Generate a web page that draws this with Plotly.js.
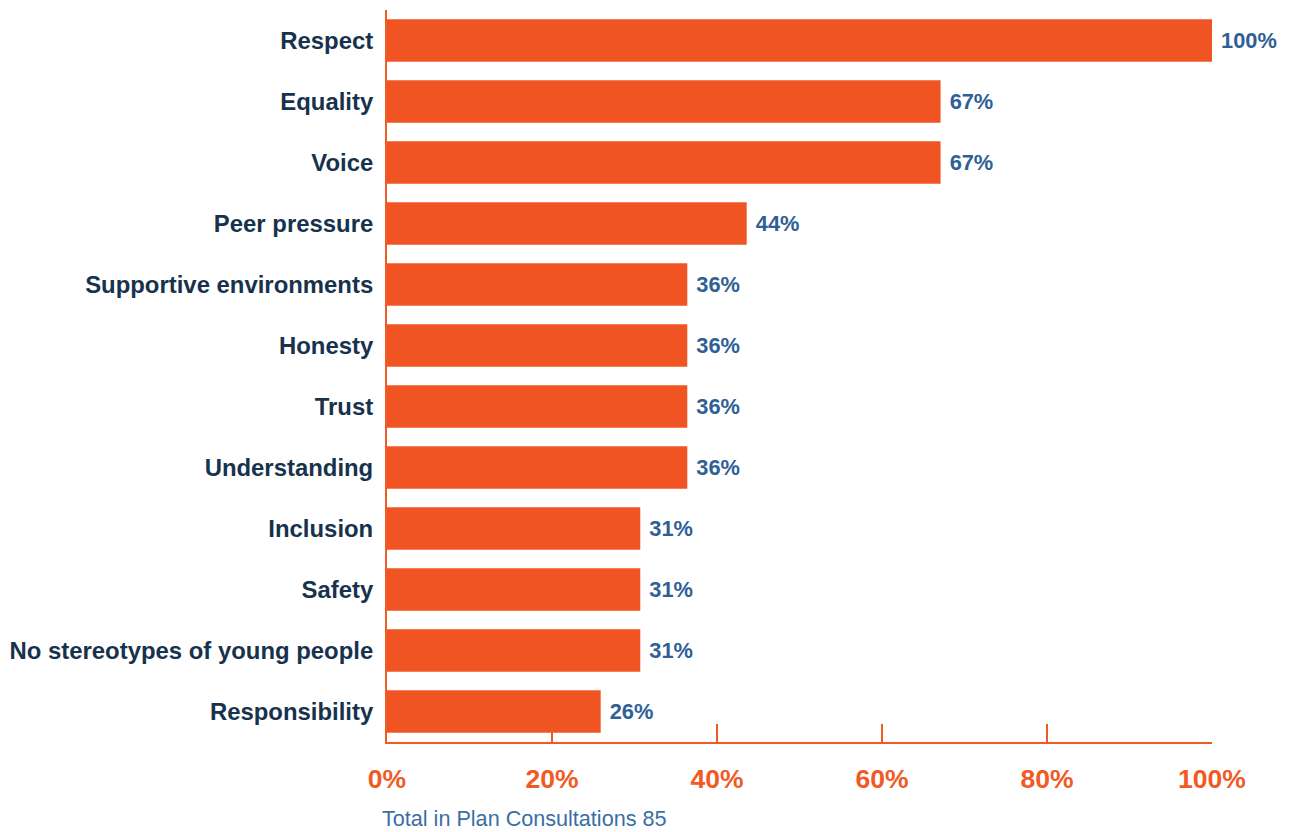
<!DOCTYPE html>
<html>
<head>
<meta charset="utf-8">
<script src="https://cdn.plot.ly/plotly-3.0.1.min.js"></script>
<style>html,body{margin:0;padding:0;background:#fff;}#chart{width:1292px;height:832px;}</style>
</head>
<body>
<div id="chart"></div>
<script>
const categories = ["Respect", "Equality", "Voice", "Peer pressure", "Supportive environments", "Honesty", "Trust", "Understanding", "Inclusion", "Safety", "No stereotypes of young people", "Responsibility"];
const values = [100, 67.1, 67.1, 43.6, 36.4, 36.4, 36.4, 36.4, 30.7, 30.7, 30.7, 25.9];
const xTickValues = [0, 20, 40, 60, 80, 100];
const xTickLabels = ["0%", "20%", "40%", "60%", "80%", "100%"];
const footnote = "Total in Plan Consultations 85";

const orange = "#F15A24";
const font = "Liberation Sans, Arial, sans-serif";

const trace = {
  type: "bar",
  orientation: "h",
  y: categories,
  x: values,
  width: 0.7,
  marker: {color: "#F15423"},
  text: values.map(v => " " + Math.round(v) + "%"),
  textposition: "outside",
  cliponaxis: false,
  textfont: {family: font, size: 21.8, color: "#2F5F96", weight: "bold"},
  hoverinfo: "none"
};

const layout = {
  width: 1292, height: 832,
  margin: {l: 387, r: 80, t: 10, b: 90},
  paper_bgcolor: "#fff", plot_bgcolor: "#fff",
  showlegend: false,
  bargap: 0.3,
  xaxis: {
    range: [0, 100],
    tickvals: xTickValues,
    ticktext: xTickLabels,
    ticks: "inside", ticklen: 18, tickwidth: 2, tickcolor: orange,
    showline: true, linecolor: orange, linewidth: 2,
    showgrid: false, zeroline: false,
    tickfont: {family: font, size: 26.5, color: orange, weight: "bold"},
    ticklabelstandoff: 12,
    fixedrange: true
  },
  yaxis: {
    categoryorder: "array",
    categoryarray: categories,
    autorange: false,
    range: [11.5, -0.5],
    showline: true, linecolor: orange, linewidth: 2,
    ticks: "", showgrid: false, zeroline: false,
    tickfont: {family: font, size: 23.9, color: "#17324D", weight: "bold"},
    ticklabelstandoff: 7,
    fixedrange: true
  },
  annotations: [{
    text: footnote,
    xref: "paper", yref: "paper",
    x: -0.009, y: -0.104,
    xanchor: "left", yanchor: "middle",
    showarrow: false,
    font: {family: font, size: 21.6, color: "#3A6EA5"}
  }]
};

Plotly.newPlot("chart", [trace], layout, {displayModeBar: false, staticPlot: true});
</script>
</body>
</html>
